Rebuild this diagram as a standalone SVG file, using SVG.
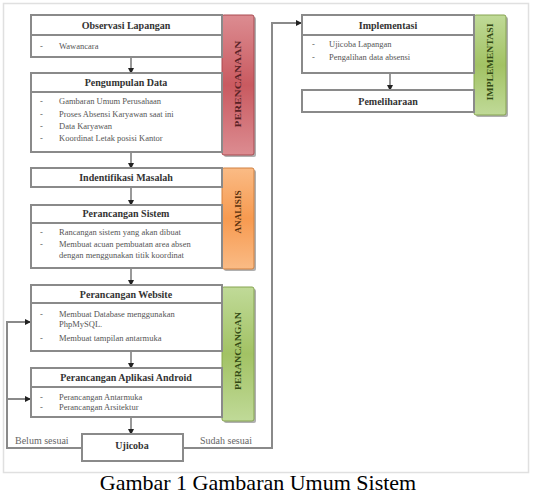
<svg xmlns="http://www.w3.org/2000/svg" width="534" height="494" viewBox="0 0 534 494">
<style>
.box{fill:#fff;stroke:#8a8a8a;stroke-width:2}
.div{stroke:#8a8a8a;stroke-width:2}
.t{font-family:"Liberation Serif","Times New Roman",serif;font-weight:bold;font-size:10px;fill:#333;text-anchor:middle}
.i{font-family:"Liberation Serif","Times New Roman",serif;font-size:8.5px;fill:#555}
.c{fill:none;stroke:#8a8a8a;stroke-width:2}
.a{stroke:#555;stroke-width:1.2;fill:none}
.lbl{font-family:"Liberation Serif","Times New Roman",serif;font-weight:bold;font-size:9px;text-anchor:middle}
.note{font-family:"Liberation Serif","Times New Roman",serif;font-size:10px;fill:#666}
</style>
<defs>
<marker id="ah" markerWidth="6" markerHeight="6" refX="5" refY="3" orient="auto" markerUnits="userSpaceOnUse">
<path d="M0,0 L6,3 L0,6 Z" fill="#222"/>
</marker>
<linearGradient id="gr" x1="0" y1="0" x2="0" y2="1">
<stop offset="0" stop-color="#dc8c91"/><stop offset="0.5" stop-color="#c95a60"/><stop offset="1" stop-color="#dc8c91"/>
</linearGradient>
<linearGradient id="go" x1="0" y1="0" x2="0" y2="1">
<stop offset="0" stop-color="#fabb85"/><stop offset="0.5" stop-color="#f79a50"/><stop offset="1" stop-color="#fabb85"/>
</linearGradient>
<linearGradient id="gg" x1="0" y1="0" x2="0" y2="1">
<stop offset="0" stop-color="#c0da98"/><stop offset="0.5" stop-color="#a2c264"/><stop offset="1" stop-color="#c0da98"/>
</linearGradient>
</defs>
<rect x="0" y="0" width="534" height="494" fill="#fff"/>
<rect x="3.5" y="3.5" width="525" height="469" fill="none" stroke="#e0e0e0" stroke-width="1.5"/>

<g id="connectors">
<line class="a" x1="131" y1="57" x2="131" y2="73" marker-end="url(#ah)"/>
<line class="a" x1="131" y1="152" x2="131" y2="168" marker-end="url(#ah)"/>
<line class="a" x1="131" y1="187" x2="131" y2="205" marker-end="url(#ah)"/>
<line class="a" x1="131" y1="268" x2="131" y2="285" marker-end="url(#ah)"/>
<line class="a" x1="131" y1="351" x2="131" y2="368" marker-end="url(#ah)"/>
<line class="a" x1="131" y1="417" x2="131" y2="434" marker-end="url(#ah)"/>
<line class="a" x1="390" y1="73" x2="390" y2="90" marker-end="url(#ah)"/>
<path class="c" d="M82,448 H7 V322 H30" marker-end="url(#ah)"/>
<path class="c" d="M7,399 H30" marker-end="url(#ah)"/>
<path class="c" d="M183,448 H272 V23 H301" marker-end="url(#ah)"/>
<text class="note" x="15" y="444">Belum sesuai</text>
<text class="note" x="200" y="444">Sudah sesuai</text>
</g>

<g id="bar-perencanaan">
<rect x="224" y="17" width="32" height="140" rx="2" fill="#b0b0b0"/>
<rect x="222" y="15" width="32" height="140" rx="2" fill="url(#gr)" stroke="#a84a50" stroke-width="1"/>
<text class="lbl" fill="#5a2226" transform="translate(241,84) rotate(-90)" textLength="87" lengthAdjust="spacingAndGlyphs">PERENCANAAN</text>
</g>
<g id="bar-analisis">
<rect x="224" y="170" width="32" height="101" rx="2" fill="#b0b0b0"/>
<rect x="222" y="168" width="32" height="101" rx="2" fill="url(#go)" stroke="#d08040" stroke-width="1"/>
<text class="lbl" fill="#5a320e" transform="translate(241,212) rotate(-90)" textLength="43" lengthAdjust="spacingAndGlyphs">ANALISIS</text>
</g>
<g id="bar-perancangan">
<rect x="224" y="289" width="32" height="134" rx="2" fill="#b0b0b0"/>
<rect x="222" y="287" width="32" height="134" rx="2" fill="url(#gg)" stroke="#86a450" stroke-width="1"/>
<text class="lbl" fill="#334a14" transform="translate(241,351) rotate(-90)" textLength="78" lengthAdjust="spacingAndGlyphs">PERANCANGAN</text>
</g>
<g id="bar-implementasi">
<rect x="476" y="17" width="32" height="100" rx="2" fill="#b0b0b0"/>
<rect x="474" y="15" width="32" height="100" rx="2" fill="url(#gg)" stroke="#86a450" stroke-width="1"/>
<text class="lbl" fill="#334a14" transform="translate(493,62) rotate(-90)" textLength="77" lengthAdjust="spacingAndGlyphs">IMPLEMENTASI</text>
</g>

<g id="observasi">
<rect class="box" x="31" y="15" width="191" height="42"/>
<line class="div" x1="31" y1="35" x2="222" y2="35"/>
<text class="t" x="126" y="29">Observasi Lapangan</text>
<text class="i" x="40" y="49">-</text><text class="i" x="59" y="49">Wawancara</text>
</g>
<g id="pengumpulan">
<rect class="box" x="31" y="73" width="191" height="79"/>
<line class="div" x1="31" y1="92" x2="222" y2="92"/>
<text class="t" x="126" y="86">Pengumpulan Data</text>
<text class="i" x="40" y="104">-</text><text class="i" x="59" y="104">Gambaran Umum Perusahaan</text>
<text class="i" x="40" y="117">-</text><text class="i" x="59" y="117">Proses Absensi Karyawan saat ini</text>
<text class="i" x="40" y="129">-</text><text class="i" x="59" y="129">Data Karyawan</text>
<text class="i" x="40" y="141">-</text><text class="i" x="59" y="141">Koordinat Letak posisi Kantor</text>
</g>
<g id="identifikasi">
<rect class="box" x="31" y="168" width="191" height="19"/>
<text class="t" x="126" y="181">Indentifikasi Masalah</text>
</g>
<g id="perancangan-sistem">
<rect class="box" x="31" y="205" width="191" height="63"/>
<line class="div" x1="31" y1="223" x2="222" y2="223"/>
<text class="t" x="126" y="217">Perancangan Sistem</text>
<text class="i" x="40" y="235">-</text><text class="i" x="59" y="235">Rancangan sistem yang akan dibuat</text>
<text class="i" x="40" y="247">-</text><text class="i" x="59" y="247">Membuat acuan pembuatan area absen</text>
<text class="i" x="59" y="258">dengan menggunakan titik koordinat</text>
</g>
<g id="perancangan-website">
<rect class="box" x="31" y="285" width="191" height="66"/>
<line class="div" x1="31" y1="303" x2="222" y2="303"/>
<text class="t" x="126" y="298">Perancangan Website</text>
<text class="i" x="40" y="317">-</text><text class="i" x="59" y="317">Membuat Database menggunakan</text>
<text class="i" x="59" y="327">PhpMySQL.</text>
<text class="i" x="40" y="341">-</text><text class="i" x="59" y="341">Membuat tampilan antarmuka</text>
</g>
<g id="perancangan-android">
<rect class="box" x="31" y="368" width="191" height="49"/>
<line class="div" x1="31" y1="387" x2="222" y2="387"/>
<text class="t" x="126" y="381">Perancangan Aplikasi Android</text>
<text class="i" x="40" y="400">-</text><text class="i" x="59" y="400">Perancangan Antarmuka</text>
<text class="i" x="40" y="410">-</text><text class="i" x="59" y="410">Perancangan Arsitektur</text>
</g>
<g id="ujicoba">
<rect class="box" x="82" y="434" width="101" height="27"/>
<text class="t" x="132" y="449">Ujicoba</text>
</g>
<g id="implementasi">
<rect class="box" x="302" y="15" width="172" height="58"/>
<line class="div" x1="302" y1="35" x2="474" y2="35"/>
<text class="t" x="388" y="29">Implementasi</text>
<text class="i" x="312" y="47">-</text><text class="i" x="329" y="47">Ujicoba Lapangan</text>
<text class="i" x="312" y="60">-</text><text class="i" x="329" y="60">Pengalihan data absensi</text>
</g>
<g id="pemeliharaan">
<rect class="box" x="302" y="90" width="172" height="22"/>
<text class="t" x="388" y="105">Pemeliharaan</text>
</g>

<text x="258" y="490" font-family="'Liberation Serif','Times New Roman',serif" font-size="22" fill="#000" text-anchor="middle">Gambar 1 Gambaran Umum Sistem</text>
</svg>
